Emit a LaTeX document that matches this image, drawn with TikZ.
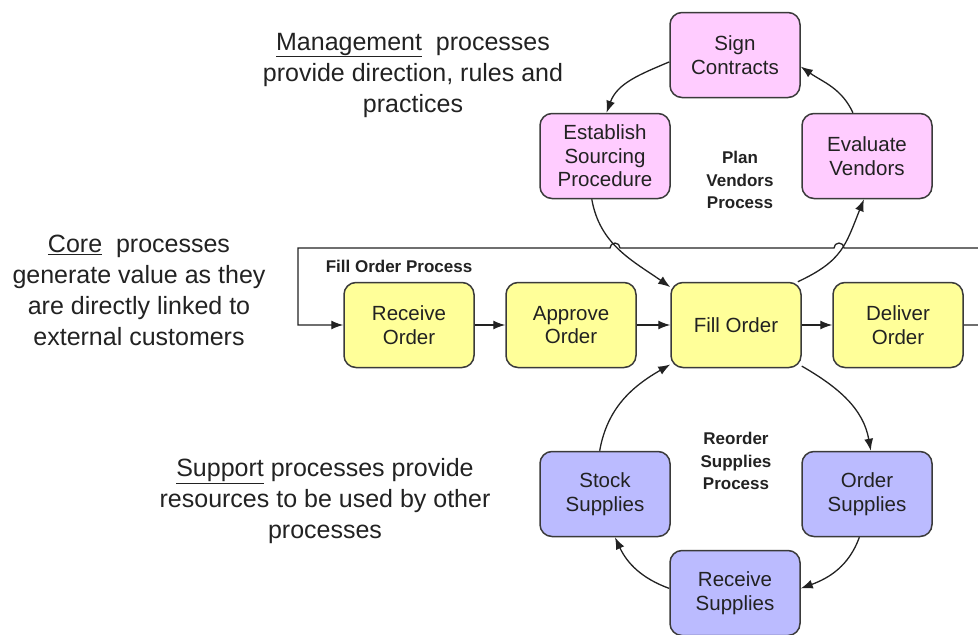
\documentclass[tikz,border=0pt]{standalone}
\usepackage{fontspec}
\setmainfont{Liberation Sans}
\usetikzlibrary{arrows.meta}
\definecolor{mgmtpink}{HTML}{FFCCFF}
\definecolor{coreyellow}{HTML}{FFFF99}
\definecolor{supblue}{HTML}{BBBBFF}
\definecolor{boxline}{HTML}{3A3A3A}
\definecolor{ink}{HTML}{222222}

\begin{document}
\begin{tikzpicture}[x=1pt,y=-1pt,
  proc/.style={draw=boxline,line width=1.5pt,rounded corners=12pt,minimum width=130pt,minimum height=85pt,inner sep=2pt,align=center,text=ink,font=\fontsize{20.5}{23.5}\selectfont},
  mgmt/.style={proc,fill=mgmtpink},
  core/.style={proc,fill=coreyellow},
  supp/.style={proc,fill=supblue},
  note/.style={align=center,text=ink,inner sep=0pt,font=\fontsize{25}{31}\selectfont},
  tag/.style={align=center,text=ink,inner sep=0pt,font=\bfseries\fontsize{17}{22.5}\selectfont},
  flow/.style={draw=ink,line width=1.3pt,-{Latex[length=12pt,width=9pt]}}]
\clip (0,0) rectangle (978,635);
% side notes
\node[note] (mgmtnote) at (413,75) {\underline{Management}\ \ processes\\provide direction, rules and\\practices};
\node[note] (corenote) at (139,290) {\underline{Core}\ \ processes\\generate value as they\\are directly linked to\\external customers};
\node[note] (suppnote) at (325,501) {\underline{Support} processes provide\\resources to be used by other\\processes};
% plan vendors
\node[mgmt] (sign) at (735,55) {Sign\\Contracts};
\node[mgmt] (source) at (605,156) {Establish\\Sourcing\\Procedure};
\node[mgmt] (evalv) at (867,156) {Evaluate\\Vendors};
\node[tag] (pvtag) at (740,180) {Plan\\Vendors\\Process};
% fill order
\node[core] (recvord) at (409,325) {Receive\\Order};
\node[core] (apprord) at (571,325) {Approve\\Order};
\node[core] (fillord) at (736,325) {Fill Order};
\node[core] (delivord) at (898,325) {Deliver\\Order};
\node[tag] (fotag) at (399,266) {Fill Order Process};
% reorder supplies
\node[supp] (stock) at (605,494) {Stock\\Supplies};
\node[supp] (ordsup) at (867,494) {Order\\Supplies};
\node[supp] (recvsup) at (735,593) {Receive\\Supplies};
\node[tag] (rstag) at (736,461) {Reorder\\Supplies\\Process};
% top loop
\draw[flow] (sign.186) to[out=203,in=70] (source.88);
\draw[flow] (source.-107) to[out=-80,in=145] (fillord.150);
\draw[flow] (fillord.35) to[out=25,in=-112,looseness=1.2] (evalv.-94);
\draw[flow] (evalv.108) to[out=115,in=-35] (sign.-10);
% bottom loop
\draw[flow] (fillord.-32) to[out=-30,in=100] (ordsup.85);
\draw[flow] (ordsup.-100) to[out=-110,in=20] (recvsup.4);
\draw[flow] (recvsup.176) to[out=160,in=-65] (stock.-77);
\draw[flow] (stock.97) to[out=80,in=210] (fillord.211);
% order row
\draw[flow] (recvord) -- (apprord);
\draw[flow] (apprord) -- (fillord);
\draw[flow] (fillord) -- (delivord);
\draw[flow] (delivord.east) -- (990,325) -- (990,248) -- (844,248)
  arc[start angle=0,end angle=-180,radius=5] -- (620,248)
  arc[start angle=0,end angle=-180,radius=5] -- (298,248) -- (298,325) -- (recvord.west);
\end{tikzpicture}
\end{document}
